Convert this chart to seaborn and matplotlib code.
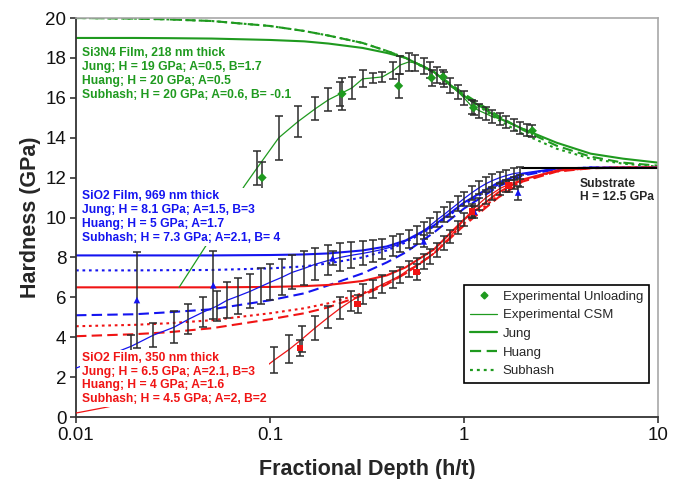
import numpy as np
import pandas as pd
import matplotlib
matplotlib.use("Agg")
import matplotlib.pyplot as plt
import seaborn as sns
from matplotlib.lines import Line2D
from matplotlib.ticker import NullLocator

# colours of the three films
GREEN = "#1f9a1f"
BLUE = "#1414f0"
RED = "#f01414"

FILMS = ["Si3N4", "SiO2_969", "SiO2_350"]
MODELS = ["Jung", "Huang", "Subhash"]

# model curves, all sampled at the same depths
MODEL_DEPTH = [0.01, 0.02, 0.03, 0.05, 0.1, 0.15, 0.2, 0.3, 0.4, 0.5, 0.7, 1, 1.5, 2, 3, 4.5, 6.6, 10]

SI3N4_JUNG = [19.0, 19.0, 18.99, 18.97, 18.9, 18.83, 18.72, 18.5, 18.25, 18.0, 17.3, 16.1, 15.0, 14.45, 13.75, 13.2, 12.95, 12.75]
SI3N4_HUANG = [20.0, 19.97, 19.93, 19.85, 19.6, 19.35, 19.12, 18.75, 18.35, 18.0, 17.3, 16.2, 15.1, 14.4, 13.6, 13.05, 12.75, 12.6]
SI3N4_SUBHASH = [20.0, 19.97, 19.93, 19.85, 19.6, 19.35, 19.12, 18.75, 18.35, 18.0, 17.25, 16.1, 14.9, 14.2, 13.45, 12.95, 12.7, 12.55]

SIO2_969_JUNG = [8.1, 8.1, 8.1, 8.1, 8.12, 8.15, 8.2, 8.35, 8.55, 8.85, 9.6, 10.75, 11.75, 12.2, 12.45, 12.5, 12.5, 12.5]
SIO2_969_HUANG = [5.1, 5.15, 5.25, 5.4, 5.85, 6.2, 6.6, 7.2, 7.75, 8.25, 9.25, 10.45, 11.55, 12.1, 12.42, 12.5, 12.5, 12.5]
SIO2_969_SUBHASH = [7.35, 7.35, 7.36, 7.37, 7.45, 7.55, 7.7, 8.0, 8.35, 8.75, 9.55, 10.65, 11.65, 12.15, 12.45, 12.5, 12.5, 12.5]

SIO2_350_JUNG = [6.5, 6.5, 6.5, 6.5, 6.52, 6.56, 6.62, 6.82, 7.1, 7.5, 8.4, 9.9, 11.25, 11.9, 12.35, 12.48, 12.5, 12.5]
SIO2_350_HUANG = [4.05, 4.15, 4.25, 4.45, 4.9, 5.2, 5.5, 6.1, 6.65, 7.2, 8.2, 9.6, 11.0, 11.8, 12.3, 12.47, 12.5, 12.5]
SIO2_350_SUBHASH = [4.55, 4.62, 4.7, 4.85, 5.2, 5.45, 5.7, 6.2, 6.7, 7.2, 8.2, 9.7, 11.1, 11.85, 12.33, 12.48, 12.5, 12.5]

# experimental CSM curves (nan error = no bar drawn)
SI3N4_CSM_X = [0.034, 0.074, 0.086, 0.111, 0.139, 0.171, 0.2, 0.23, 0.265, 0.30, 0.34, 0.38, 0.43, 0.47, 0.52,
               0.56, 0.62, 0.67, 0.73, 0.79, 0.85, 0.93, 1.0, 1.1, 1.2, 1.3, 1.4, 1.53, 1.65, 1.8, 1.95, 2.1]
SI3N4_CSM_Y = [6.5, 11.6, 12.5, 14.0, 14.8, 15.45, 15.9, 16.2, 16.5, 16.95, 17.0, 17.05, 17.35, 17.65, 17.8,
               17.75, 17.6, 17.4, 17.15, 16.9, 16.6, 16.3, 16.0, 15.55, 15.35, 15.2, 15.05, 14.95, 14.8, 14.65, 14.5, 14.4]
SI3N4_CSM_ERR = [np.nan, np.nan, 0.85, 1.1, 0.77, 0.57, 0.58, 0.6, 0.56, 0.43, 0.25, 0.25, 0.43, 0.46, 0.46,
                 0.42, 0.42, 0.4, 0.4, 0.38, 0.38, 0.36, 0.35, 0.35, 0.34, 0.33, 0.32, 0.3, 0.3, 0.3, 0.3, 0.3]

SIO2_969_CSM_X = [0.01, 0.0193, 0.025, 0.032, 0.038, 0.045, 0.053, 0.06, 0.068, 0.079, 0.09, 0.1, 0.115, 0.13,
                  0.15, 0.17, 0.2, 0.23, 0.26, 0.3, 0.34, 0.38, 0.43, 0.47, 0.52, 0.57, 0.62, 0.67, 0.73, 0.79,
                  0.85, 0.93, 1.0, 1.1, 1.2, 1.3, 1.4, 1.53, 1.65, 1.8, 1.95]
SIO2_969_CSM_Y = [2.45, 3.55, 4.1, 4.5, 4.9, 5.25, 5.55, 5.85, 6.05, 6.3, 6.55, 6.75, 7.0, 7.25,
                  7.45, 7.65, 7.85, 8.0, 8.1, 8.2, 8.3, 8.4, 8.55, 8.7, 8.9, 9.1, 9.35, 9.6, 9.9, 10.15,
                  10.4, 10.7, 10.95, 11.25, 11.5, 11.7, 11.85, 12.0, 12.1, 12.2, 12.25]
SIO2_969_CSM_ERR = [np.nan, 0.55, 0.6, 0.8, 0.75, 0.75, 0.75, 0.9, 0.9, 0.85, 0.9, 0.9, 0.9, 0.85,
                    0.85, 0.8, 0.75, 0.7, 0.65, 0.6, 0.55, 0.5, 0.5, 0.45, 0.45, 0.45, 0.42, 0.4, 0.4, 0.38,
                    0.38, 0.36, 0.35, 0.35, 0.34, 0.33, 0.32, 0.3, 0.3, 0.3, 0.3]

SIO2_350_CSM_X = [0.01, 0.0145, 0.03, 0.079, 0.086, 0.105, 0.126, 0.146, 0.17, 0.2, 0.23, 0.26, 0.3, 0.34,
                  0.38, 0.43, 0.47, 0.52, 0.57, 0.62, 0.67, 0.73, 0.79, 0.85, 0.93, 1.0, 1.1, 1.2, 1.3,
                  1.4, 1.53, 1.65, 1.8, 1.95]
SIO2_350_CSM_Y = [0.2, 0.5, 1.2, 1.95, 2.2, 2.85, 3.4, 3.9, 4.45, 5.0, 5.45, 5.8, 6.15, 6.4,
                  6.65, 6.9, 7.1, 7.4, 7.6, 7.8, 8.05, 8.35, 8.7, 9.05, 9.5, 9.9, 10.35, 10.7, 11.0,
                  11.2, 11.45, 11.6, 11.75, 11.85]
SIO2_350_CSM_ERR = [np.nan, np.nan, np.nan, np.nan, 0.55, 0.65, 0.7, 0.65, 0.6, 0.55, 0.55, 0.5, 0.5, 0.45,
                    0.45, 0.42, 0.4, 0.4, 0.38, 0.38, 0.36, 0.35, 0.35, 0.34, 0.33, 0.32, 0.32, 0.3, 0.3,
                    0.3, 0.3, 0.3, 0.3, 0.3]

# experimental unloading points
SI3N4_UNL_X = [0.091, 0.235, 0.46, 0.68, 0.78, 1.12, 2.25]
SI3N4_UNL_Y = [12.0, 16.2, 16.6, 17.0, 17.05, 15.5, 14.35]
SI3N4_UNL_ERR = [0.8, 0.8, 0.6, 0.4, 0.35, 0.35, 0.3]

SIO2_969_UNL_X = [0.0206, 0.051, 0.21, 0.62, 1.13, 1.9]
SIO2_969_UNL_Y = [5.86, 6.6, 7.95, 8.8, 10.3, 11.25]
SIO2_969_UNL_ERR = [2.4, 1.7, 0.35, 0.3, 0.3, 0.35]

SIO2_350_UNL_X = [0.143, 0.283, 0.57, 1.1, 1.7]
SIO2_350_UNL_Y = [3.45, 5.66, 7.27, 10.3, 11.6]
SIO2_350_UNL_ERR = [0.4, 0.45, 0.42, 0.3, 0.3]

SUBSTRATE_X = [2, 10]
SUBSTRATE_Y = [12.5, 12.5]

LABELS_SI3N4 = ["Si3N4 Film, 218 nm thick", "Jung; H = 19 GPa; A=0.5, B=1.7",
                "Huang; H = 20 GPa; A=0.5", "Subhash; H = 20 GPa; A=0.6, B= -0.1"]
LABELS_969 = ["SiO2 Film, 969 nm thick", "Jung; H = 8.1 GPa; A=1.5, B=3",
              "Huang; H = 5 GPa; A=1.7", "Subhash; H = 7.3 GPa; A=2.1, B= 4"]
LABELS_350 = ["SiO2 Film, 350 nm thick", "Jung; H = 6.5 GPa; A=2.1, B=3",
              "Huang; H = 4 GPa; A=1.6", "Subhash; H = 4.5 GPa; A=2, B=2"]


def build_frames():
    """Long tables for the seaborn calls."""
    model_vals = {
        "Si3N4": [SI3N4_JUNG, SI3N4_HUANG, SI3N4_SUBHASH],
        "SiO2_969": [SIO2_969_JUNG, SIO2_969_HUANG, SIO2_969_SUBHASH],
        "SiO2_350": [SIO2_350_JUNG, SIO2_350_HUANG, SIO2_350_SUBHASH],
    }
    rows = []
    for film, curves in model_vals.items():
        for model, ys in zip(MODELS, curves):
            for x, y in zip(MODEL_DEPTH, ys):
                rows.append({"depth": x, "hardness": y, "film": film, "model": model})
    models = pd.DataFrame(rows)

    csm = pd.concat([
        pd.DataFrame({"depth": SI3N4_CSM_X, "hardness": SI3N4_CSM_Y, "err": SI3N4_CSM_ERR, "film": "Si3N4"}),
        pd.DataFrame({"depth": SIO2_969_CSM_X, "hardness": SIO2_969_CSM_Y, "err": SIO2_969_CSM_ERR, "film": "SiO2_969"}),
        pd.DataFrame({"depth": SIO2_350_CSM_X, "hardness": SIO2_350_CSM_Y, "err": SIO2_350_CSM_ERR, "film": "SiO2_350"}),
    ], ignore_index=True)

    unl = pd.concat([
        pd.DataFrame({"depth": SI3N4_UNL_X, "hardness": SI3N4_UNL_Y, "err": SI3N4_UNL_ERR, "film": "Si3N4"}),
        pd.DataFrame({"depth": SIO2_969_UNL_X, "hardness": SIO2_969_UNL_Y, "err": SIO2_969_UNL_ERR, "film": "SiO2_969"}),
        pd.DataFrame({"depth": SIO2_350_UNL_X, "hardness": SIO2_350_UNL_Y, "err": SIO2_350_UNL_ERR, "film": "SiO2_350"}),
    ], ignore_index=True)
    return models, csm, unl


def main():
    sns.set_style("ticks")
    plt.rcParams["font.family"] = ["Liberation Sans", "DejaVu Sans"]

    palette = dict(zip(FILMS, [GREEN, BLUE, RED]))
    dashes = {"Jung": "", "Huang": (5, 2.5), "Subhash": (1.3, 1.8)}
    markers = {"Si3N4": "D", "SiO2_969": "^", "SiO2_350": "s"}

    models, csm, unl = build_frames()

    fig = plt.figure(figsize=(6.88, 4.79), dpi=100)
    ax = fig.add_axes([0.1105, 0.1294, 0.8459, 0.833])
    ax.set_xscale("log")

    sns.lineplot(data=models, x="depth", y="hardness", hue="film", style="model",
                 palette=palette, dashes=dashes, linewidth=1.5, estimator=None,
                 legend=False, ax=ax, zorder=2)
    sns.lineplot(data=csm, x="depth", y="hardness", hue="film", palette=palette,
                 linewidth=0.9, estimator=None, legend=False, ax=ax, zorder=3)

    # error bars for CSM and unloading
    for df in (csm, unl):
        bars = df[df["err"].notna()]
        ax.errorbar(bars["depth"], bars["hardness"], yerr=bars["err"], fmt="none",
                    ecolor="#2b2b2b", elinewidth=1.1, capsize=2.6, capthick=1.1, zorder=4)

    sns.scatterplot(data=unl, x="depth", y="hardness", hue="film", style="film",
                    palette=palette, markers=markers, s=22, linewidth=0,
                    legend=False, ax=ax, zorder=5)

    ax.plot(SUBSTRATE_X, SUBSTRATE_Y, color="black", linewidth=1.5, zorder=2)

    # film annotations with white backgrounds
    box = dict(facecolor="white", edgecolor="none", pad=1.5)
    for lines, color, ypos in ((LABELS_SI3N4, GREEN, 0.8596),
                               (LABELS_969, BLUE, 0.5013),
                               (LABELS_350, RED, 0.0965)):
        ax.text(0.0103, ypos, "\n".join(lines), transform=ax.transAxes, color=color,
                fontsize=8.7, fontweight="bold", va="center", ha="left",
                linespacing=1.2, bbox=box, zorder=6)
    ax.text(0.866, 0.5677, "Substrate\nH = 12.5 GPa", transform=ax.transAxes,
            fontsize=8.7, fontweight="bold", va="center", ha="left", linespacing=1.2, zorder=6)

    ax.set_xlim(0.01, 10)
    ax.set_ylim(0, 20)
    ax.set_xticks([0.01, 0.1, 1, 10])
    ax.set_xticklabels(["0.01", "0.1", "1", "10"])
    ax.xaxis.set_minor_locator(NullLocator())
    ax.set_yticks(range(0, 21, 2))
    ax.tick_params(axis="both", labelsize=13.5, length=4, width=1.2, color="#333333",
                   labelcolor="#111111", pad=3)

    ax.set_xlabel("Fractional Depth (h/t)", fontsize=15.5, fontweight="bold", labelpad=11)
    ax.set_ylabel("Hardness (GPa)", fontsize=15.5, fontweight="bold", labelpad=3)

    for side in ("left", "bottom"):
        ax.spines[side].set_color("#333333")
        ax.spines[side].set_linewidth(1.3)
    for side in ("top", "right"):
        ax.spines[side].set_visible(True)
        ax.spines[side].set_color("#a8a8a8")
        ax.spines[side].set_linewidth(1.2)

    handles = [
        Line2D([], [], linestyle="none", marker="D", markersize=3.5, color=GREEN),
        Line2D([], [], color=GREEN, linewidth=0.9),
        Line2D([], [], color=GREEN, linewidth=1.6),
        Line2D([], [], color=GREEN, linewidth=1.6, dashes=(5, 2.5)),
        Line2D([], [], color=GREEN, linewidth=1.6, dashes=(1.3, 1.8)),
    ]
    labels = ["Experimental Unloading", "Experimental CSM", "Jung", "Huang", "Subhash"]
    leg = ax.legend(handles, labels, loc="lower right", bbox_to_anchor=(0.9845, 0.085),
                    fontsize=9.5, frameon=True, fancybox=False, framealpha=1,
                    edgecolor="black", labelspacing=0.48, handlelength=2.1,
                    handletextpad=0.4, borderpad=0.45, borderaxespad=0)
    leg.get_frame().set_linewidth(1.2)
    leg.set_zorder(7)

    fig.savefig("out.png", dpi=100)


if __name__ == "__main__":
    main()
